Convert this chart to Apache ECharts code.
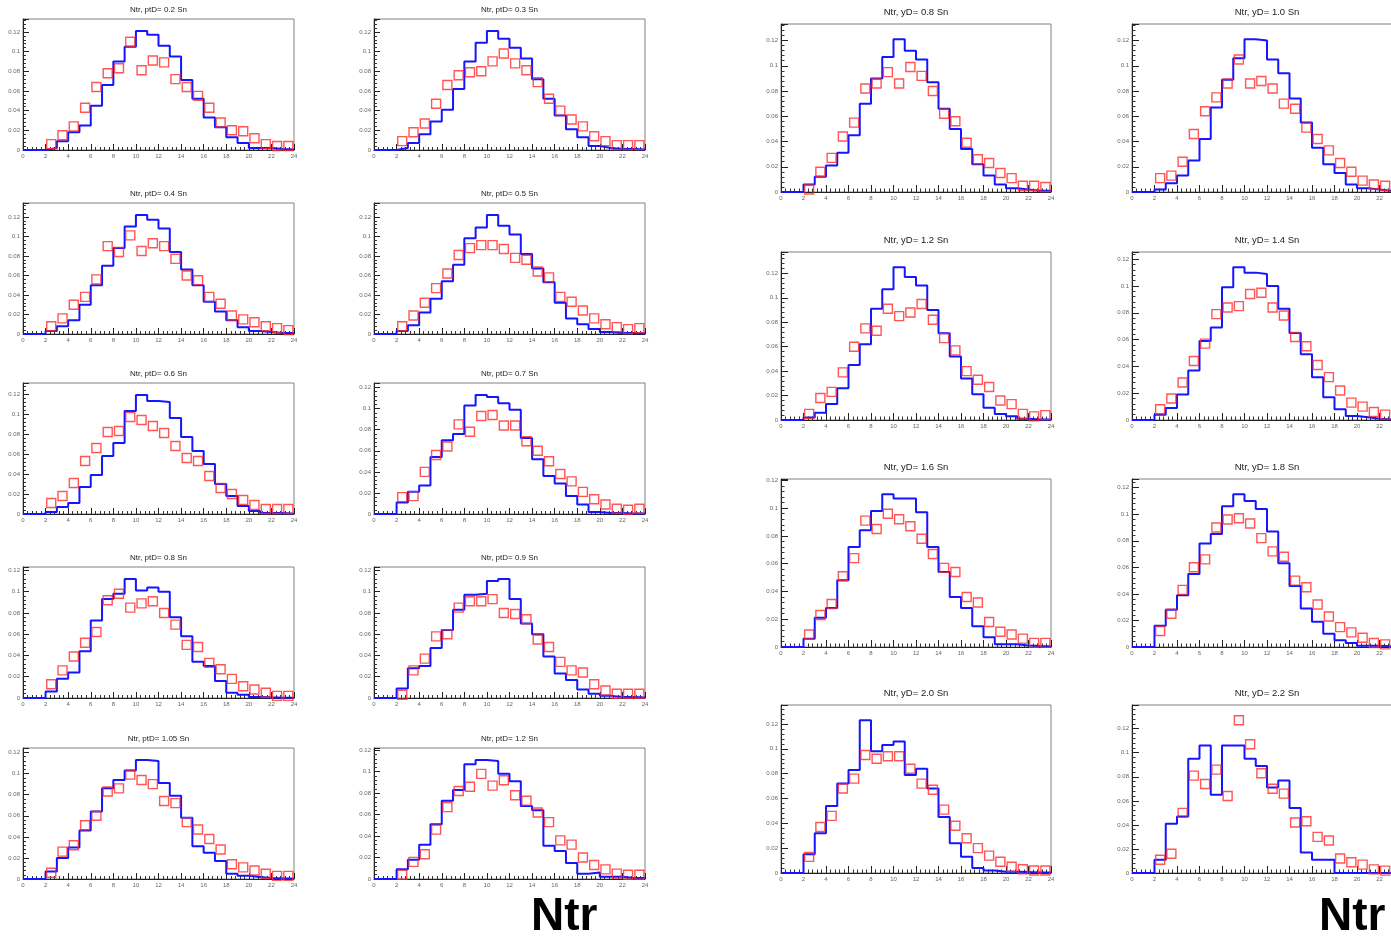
<!DOCTYPE html>
<html><head><meta charset="utf-8">
<script src="https://cdn.jsdelivr.net/npm/echarts@6/dist/echarts.min.js"></script>
<style>html,body{margin:0;padding:0;background:#fff}#c{width:1391px;height:937px}</style>
</head><body><div id="c"></div>
<script>
// bins: [k, k+1), k = 0..23 ; blue = histogram, red = open squares at bin centres
const blue_pt02 = [0,0,0.002,0.009,0.018,0.025,0.045,0.066,0.090,0.105,0.121,0.117,0.106,0.095,0.071,0.052,0.033,0.023,0.013,0.007,0.002,0.002,0.001,0.0005];
const red_pt02  = [null,null,0.006,0.015,0.024,0.043,0.064,0.078,0.083,0.110,0.081,0.091,0.089,0.072,0.064,0.055,0.043,0.028,0.020,0.019,0.012,0.006,0.004,0.004];
const blue_pt03 = [0,0,0.002,0.007,0.016,0.029,0.041,0.062,0.090,0.109,0.121,0.113,0.104,0.093,0.072,0.052,0.035,0.021,0.013,0.004,0.002,0.001,0.001,0.0005];
const red_pt03  = [null,null,0.009,0.018,0.027,0.047,0.066,0.076,0.079,0.080,0.090,0.098,0.088,0.081,0.069,0.052,0.040,0.031,0.024,0.014,0.009,0.005,0.005,0.005];
const blue_pt04 = [0,0,0.003,0.008,0.014,0.030,0.050,0.070,0.088,0.110,0.122,0.117,0.108,0.084,0.066,0.050,0.033,0.023,0.014,0.007,0.003,0.002,0.001,0.001];
const red_pt04  = [null,null,0.008,0.016,0.030,0.038,0.056,0.090,0.084,0.101,0.085,0.093,0.090,0.077,0.060,0.055,0.038,0.031,0.019,0.015,0.012,0.008,0.006,0.004];
const blue_pt05 = [0,0,0.003,0.009,0.022,0.036,0.054,0.071,0.098,0.109,0.122,0.111,0.102,0.082,0.067,0.053,0.032,0.016,0.010,0.005,0.002,0.001,0.001,0.0005];
const red_pt05  = [null,null,0.008,0.019,0.032,0.047,0.062,0.081,0.088,0.091,0.091,0.087,0.078,0.076,0.064,0.058,0.038,0.033,0.024,0.016,0.010,0.007,0.005,0.006];
const blue_pt06 = [0,0,0.002,0.007,0.011,0.027,0.039,0.058,0.071,0.103,0.119,0.113,0.112,0.096,0.077,0.063,0.050,0.030,0.018,0.008,0.003,0.001,0.001,0.0003];
const red_pt06  = [null,null,0.011,0.018,0.031,0.053,0.066,0.082,0.083,0.097,0.094,0.088,0.081,0.068,0.056,0.053,0.038,0.026,0.020,0.014,0.009,0.005,0.005,0.005];
const blue_pt07 = [0,0,0.011,0.021,0.027,0.054,0.070,0.076,0.103,0.113,0.111,0.105,0.099,0.072,0.052,0.036,0.029,0.017,0.009,0.002,0.001,0.001,0.0004,0.0004];
const red_pt07  = [null,null,0.016,0.017,0.040,0.056,0.064,0.085,0.078,0.093,0.094,0.084,0.084,0.069,0.060,0.050,0.038,0.031,0.021,0.014,0.009,0.005,0.004,0.005];
const blue_pt08 = [0,0,0.006,0.018,0.024,0.044,0.073,0.093,0.098,0.112,0.101,0.104,0.100,0.076,0.058,0.034,0.030,0.016,0.005,0.003,0.001,0.0006,0.0003,0.0003];
const red_pt08  = [null,null,0.013,0.026,0.039,0.052,0.062,0.092,0.098,0.085,0.089,0.091,0.080,0.069,0.050,0.048,0.033,0.027,0.018,0.011,0.008,0.005,0.002,0.002];
const blue_pt09 = [0,0,0.009,0.028,0.030,0.047,0.064,0.083,0.097,0.098,0.110,0.112,0.093,0.070,0.060,0.039,0.023,0.017,0.008,0.004,0.002,0.001,0.001,0.0004];
const red_pt09  = [null,null,0.003,0.026,0.037,0.058,0.060,0.085,0.091,0.091,0.093,0.080,0.079,0.074,0.055,0.048,0.034,0.026,0.024,0.013,0.007,0.004,0.004,0.004];
const blue_pt105 = [0,0,0.007,0.020,0.030,0.046,0.064,0.086,0.094,0.103,0.113,0.112,0.091,0.079,0.058,0.031,0.025,0.017,0.005,0.003,0.002,0.001,0.0006,0.0003];
const red_pt105  = [null,null,0.006,0.026,0.032,0.051,0.060,0.083,0.086,0.099,0.094,0.090,0.074,0.072,0.054,0.047,0.038,0.028,0.014,0.011,0.008,0.005,0.003,0.003];
const blue_pt12 = [0,0,0.009,0.018,0.032,0.051,0.073,0.083,0.107,0.111,0.110,0.098,0.091,0.068,0.064,0.031,0.026,0.015,0.005,0.006,0.002,0.002,0.001,0.001];
const red_pt12  = [null,null,0.004,0.016,0.023,0.046,0.067,0.082,0.086,0.098,0.087,0.092,0.078,0.073,0.062,0.053,0.036,0.032,0.020,0.013,0.009,0.005,0.004,0.004];

const blue_y08 = [0,0,0.006,0.012,0.021,0.031,0.045,0.070,0.090,0.107,0.121,0.112,0.105,0.087,0.066,0.050,0.034,0.022,0.013,0.006,0.003,0.002,0.001,0.001];
const red_y08  = [null,null,0.002,0.016,0.027,0.044,0.055,0.082,0.086,0.095,0.086,0.099,0.092,0.080,0.062,0.056,0.039,0.026,0.023,0.015,0.011,0.005,0.005,0.004];
const blue_y10 = [0,0,0.002,0.007,0.013,0.025,0.042,0.067,0.089,0.106,0.121,0.120,0.105,0.094,0.074,0.055,0.035,0.022,0.015,0.006,0.003,0.002,0.001,0.001];
const red_y10  = [null,null,0.011,0.013,0.024,0.046,0.064,0.075,0.086,0.105,0.086,0.088,0.082,0.070,0.066,0.051,0.042,0.033,0.023,0.016,0.009,0.006,0.005,0.004];
const blue_y12 = [0,0,0.002,0.006,0.013,0.026,0.045,0.062,0.091,0.107,0.125,0.117,0.110,0.090,0.071,0.052,0.034,0.021,0.010,0.005,0.003,0.001,0.0005,0.0005];
const red_y12  = [null,null,0.005,0.018,0.023,0.039,0.060,0.075,0.073,0.091,0.085,0.088,0.095,0.082,0.067,0.057,0.040,0.033,0.027,0.016,0.013,0.005,0.003,0.004];
const blue_y14 = [0,0,0.004,0.009,0.019,0.037,0.059,0.069,0.099,0.114,0.110,0.109,0.100,0.083,0.065,0.049,0.032,0.017,0.008,0.003,0.002,0.001,0.0005,0.0005];
const red_y14  = [null,null,0.008,0.016,0.028,0.044,0.057,0.079,0.084,0.085,0.094,0.095,0.084,0.078,0.062,0.055,0.041,0.032,0.022,0.013,0.010,0.006,0.004,0.003];
const blue_y16 = [0,0,0.006,0.021,0.028,0.048,0.072,0.084,0.098,0.110,0.107,0.107,0.097,0.072,0.054,0.036,0.028,0.015,0.007,0.002,0.002,0.001,0.0007,0.0005];
const red_y16  = [null,null,0.009,0.023,0.031,0.051,0.064,0.091,0.085,0.096,0.092,0.087,0.078,0.067,0.057,0.054,0.036,0.032,0.018,0.011,0.009,0.006,0.003,0.003];
const blue_y18 = [0,0,0.016,0.028,0.039,0.055,0.078,0.085,0.106,0.115,0.110,0.104,0.087,0.063,0.046,0.029,0.019,0.010,0.005,0.003,0.001,0.001,0.0005,0.0003];
const red_y18  = [null,null,0.012,0.025,0.043,0.060,0.066,0.090,0.096,0.097,0.093,0.082,0.072,0.068,0.050,0.045,0.032,0.023,0.015,0.011,0.007,0.003,0.002,0.002];
const blue_y20 = [0,0,0.015,0.032,0.054,0.072,0.083,0.123,0.098,0.103,0.106,0.079,0.084,0.068,0.045,0.024,0.013,0.004,0.002,0.001,0.001,0.0008,0.0005,0.0005];
const red_y20  = [null,null,0.013,0.037,0.046,0.068,0.076,0.095,0.092,0.094,0.094,0.084,0.072,0.067,0.051,0.038,0.028,0.020,0.014,0.009,0.005,0.003,0.002,0.002];
const blue_y22 = [0,0,0.011,0.041,0.047,0.095,0.106,0.065,0.106,0.106,0.095,0.089,0.071,0.077,0.054,0.017,0.011,0.011,0,0,0,0,0,0];
const red_y22  = [null,null,0.011,0.016,0.050,0.081,0.074,0.086,0.064,0.127,0.107,0.083,0.070,0.066,0.042,0.043,0.030,0.027,0.012,0.009,0.007,0.003,0.002,0.001];

const titles_left  = ['Ntr, ptD= 0.2 Sn','Ntr, ptD= 0.3 Sn','Ntr, ptD= 0.4 Sn','Ntr, ptD= 0.5 Sn','Ntr, ptD= 0.6 Sn','Ntr, ptD= 0.7 Sn','Ntr, ptD= 0.8 Sn','Ntr, ptD= 0.9 Sn','Ntr, ptD= 1.05 Sn','Ntr, ptD= 1.2 Sn'];
const titles_right = ['Ntr, yD= 0.8 Sn','Ntr, yD= 1.0 Sn','Ntr, yD= 1.2 Sn','Ntr, yD= 1.4 Sn','Ntr, yD= 1.6 Sn','Ntr, yD= 1.8 Sn','Ntr, yD= 2.0 Sn','Ntr, yD= 2.2 Sn'];
const xLabel = 'Ntr';

const leftBlue  = [blue_pt02,blue_pt03,blue_pt04,blue_pt05,blue_pt06,blue_pt07,blue_pt08,blue_pt09,blue_pt105,blue_pt12];
const leftRed   = [red_pt02,red_pt03,red_pt04,red_pt05,red_pt06,red_pt07,red_pt08,red_pt09,red_pt105,red_pt12];
const rightBlue = [blue_y08,blue_y10,blue_y12,blue_y14,blue_y16,blue_y18,blue_y20,blue_y22];
const rightRed  = [red_y08,red_y10,red_y12,red_y14,red_y16,red_y18,red_y20,red_y22];

const FONT = 'Liberation Sans, Arial, sans-serif';
const panels = [];
const lCols = [23, 374], lRows = [19, 203, 383, 567, 748];
for (let i = 0; i < 10; i++) {
  panels.push({title: titles_left[i], blue: leftBlue[i], red: leftRed[i],
    left: lCols[i % 2], top: lRows[Math.floor(i / 2)], width: 271, height: 131,
    tfs: 8, toff: 9, major: 6, minor: 3});
}
const rCols = [781, 1132], rRows = [24, 252, 479, 705];
for (let i = 0; i < 8; i++) {
  panels.push({title: titles_right[i], blue: rightBlue[i], red: rightRed[i],
    left: rCols[i % 2], top: rRows[Math.floor(i / 2)], width: 270, height: 168,
    tfs: 9.5, toff: 12, major: 7, minor: 3.5});
}

const grid = [], xAxis = [], yAxis = [], series = [], graphic = [];
panels.forEach((p, i) => {
  const vals = p.blue.concat(p.red.filter(v => v != null));
  const ymax = 1.1 * Math.max.apply(null, vals);
  grid.push({left: p.left, top: p.top, width: p.width, height: p.height, show: true,
    outerBoundsMode: 'none', containLabel: false,
    borderColor: '#808080', borderWidth: 1, backgroundColor: 'transparent'});
  xAxis.push({gridIndex: i, type: 'value', min: 0, max: 24, interval: 2,
    axisLine: {show: true, onZero: false, lineStyle: {color: '#222', width: 1}},
    axisTick: {show: true, inside: true, length: p.major, lineStyle: {color: '#222'}},
    minorTick: {show: true, splitNumber: 5, length: p.minor, lineStyle: {color: '#333'}},
    axisLabel: {fontSize: 6, color: '#666', margin: 3, fontFamily: FONT},
    splitLine: {show: false}, minorSplitLine: {show: false}});
  yAxis.push({gridIndex: i, type: 'value', min: 0, max: ymax, interval: 0.02,
    axisLine: {show: true, onZero: false, lineStyle: {color: '#222', width: 1}},
    axisTick: {show: true, inside: true, length: p.major, lineStyle: {color: '#222'}},
    minorTick: {show: true, splitNumber: 5, length: p.minor, lineStyle: {color: '#333'}},
    axisLabel: {fontSize: 6, color: '#666', margin: 3, fontFamily: FONT, showMaxLabel: false},
    splitLine: {show: false}, minorSplitLine: {show: false}});
  const bdata = p.blue.map((v, k) => [k, v]);
  bdata.push([24, p.blue[p.blue.length - 1]]);
  series.push({type: 'line', xAxisIndex: i, yAxisIndex: i, step: 'end', symbol: 'none',
    data: bdata, lineStyle: {color: '#1515ff', width: 2}, z: 2, silent: true});
  const rdata = [];
  p.red.forEach((v, k) => { if (v != null) rdata.push([k + 0.5, v]); });
  series.push({type: 'scatter', xAxisIndex: i, yAxisIndex: i, symbol: 'rect', symbolSize: 9,
    data: rdata, itemStyle: {color: 'rgba(255,255,255,0)', borderColor: '#ff2a2a', borderWidth: 1.4},
    z: 3, silent: true});
  graphic.push({type: 'text', x: p.left + p.width / 2, y: p.top - p.toff,
    style: {text: p.title, fontSize: p.tfs, fill: '#222', fontFamily: FONT, align: 'center', verticalAlign: 'middle'}});
});
graphic.push({type: 'text', x: 531, y: 917, style: {text: xLabel, fontSize: 46, fontWeight: 'bold', fill: '#000', fontFamily: FONT, align: 'left', verticalAlign: 'middle'}});
graphic.push({type: 'text', x: 1319, y: 917, style: {text: xLabel, fontSize: 46, fontWeight: 'bold', fill: '#000', fontFamily: FONT, align: 'left', verticalAlign: 'middle'}});

const chart = echarts.init(document.getElementById('c'), null, {renderer: 'canvas'});
chart.setOption({animation: false, backgroundColor: '#fff', grid, xAxis, yAxis, series, graphic});
</script></body></html>
